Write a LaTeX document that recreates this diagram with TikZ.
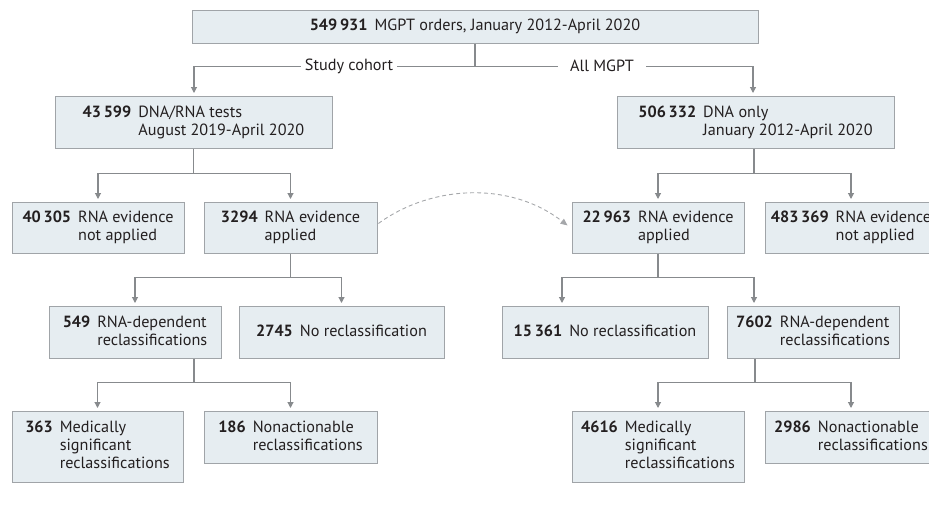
\documentclass[tikz,border=0pt]{standalone}
\usepackage{fontspec}
\setmainfont{PT Sans}
\usetikzlibrary{arrows.meta}
\definecolor{boxfill}{RGB}{230,237,241}
\definecolor{boxdraw}{RGB}{160,164,168}
\definecolor{linec}{RGB}{135,138,141}
\definecolor{dashc}{RGB}{165,167,170}
\definecolor{txt}{RGB}{35,31,32}
\newcommand{\fentry}[2]{\begin{tabular}{@{}l@{\hspace{7pt}}l@{}}\textbf{#1} & #2\end{tabular}}
\tikzset{
  box/.style={draw=boxdraw, fill=boxfill, line width=0.9pt, inner sep=0pt, anchor=north, text=txt,
    font=\fontsize{16.2}{18}\selectfont},
  conn/.style={draw=linec, line width=1.1pt},
  arr/.style={conn, -{Triangle[width=6pt,length=6pt]}, shorten >=3pt},
  dasharr/.style={draw=dashc, line width=0.9pt, dash pattern=on 4pt off 3pt, -{Triangle[width=6pt,length=7pt]}},
  lbl/.style={fill=white, text=txt, inner ysep=2pt, font=\fontsize{16.2}{18}\selectfont}
}
\begin{document}
\begin{tikzpicture}[x=1pt,y=-1pt]
\useasboundingbox (0,0) rectangle (929,504);
\clip (0,0) rectangle (929,504);
% boxes
\node[box, minimum width=566pt, minimum height=33pt] (top) at (475,10) {\fentry{549\,931}{MGPT orders, January 2012-April 2020}};
\node[box, minimum width=277pt, minimum height=52pt] (a1) at (193.5,96) {\fentry{43\,599}{DNA/RNA tests\\ & August 2019-April 2020}};
\node[box, minimum width=277pt, minimum height=52pt] (b1) at (755.5,96) {\fentry{506\,332}{DNA only\\ & January 2012-April 2020}};
\node[box, minimum width=172pt, minimum height=51pt] (a2l) at (98,202) {\fentry{40\,305}{RNA evidence\\ & not applied}};
\node[box, minimum width=173pt, minimum height=51pt] (a2r) at (290.5,202) {\fentry{3294}{RNA evidence\\ & applied}};
\node[box, minimum width=172pt, minimum height=51pt] (b2l) at (658,202) {\fentry{22\,963}{RNA evidence\\ & applied}};
\node[box, minimum width=172pt, minimum height=51pt] (b2r) at (851,202) {\fentry{483\,369}{RNA evidence\\ & not applied}};
\node[box, minimum width=172pt, minimum height=52pt] (a3l) at (135,306) {\fentry{549}{RNA-dependent\\ & reclassifications}};
\node[box, minimum width=205pt, minimum height=52pt] (a3r) at (341.5,306) {\fentry{2745}{No reclassification}};
\node[box, minimum width=206pt, minimum height=52pt] (b3l) at (605,306) {\fentry{15\,361}{No reclassification}};
\node[box, minimum width=172pt, minimum height=52pt] (b3r) at (813,306) {\fentry{7602}{RNA-dependent\\ & reclassifications}};
\node[box, minimum width=171pt, minimum height=71pt] (a4l) at (97.5,411) {\fentry{363}{Medically\\ & significant\\ & reclassifications}};
\node[box, minimum width=173pt, minimum height=52pt] (a4r) at (290.5,411) {\fentry{186}{Nonactionable\\ & reclassifications}};
\node[box, minimum width=172pt, minimum height=71pt] (b4l) at (658,411) {\fentry{4616}{Medically\\ & significant\\ & reclassifications}};
\node[box, minimum width=172pt, minimum height=52pt] (b4r) at (851,411) {\fentry{2986}{Nonactionable\\ & reclassifications}};
% level 1
\coordinate (j0) at ([yshift=-23pt]top.south);
\draw[conn] (top.south) -- (j0);
\draw[arr] (j0) -| ([xshift=0.5pt]a1.north);
\draw[arr] (j0) -| ([xshift=-2.5pt]b1.north);
\node[lbl, inner xsep=4pt] (lsc) at (349,66) {Study cohort};
\node[lbl, inner xsep=12pt] (lam) at (602,66) {All MGPT};
% level 2
\coordinate (j1a) at ([yshift=-25pt]a1.south);
\draw[conn] (a1.south) -- (j1a);
\draw[arr] (j1a) -| (a2l.north);
\draw[arr] (j1a) -| (a2r.north);
\coordinate (j1b) at ([xshift=-1.5pt,yshift=-25pt]b1.south);
\draw[conn] ([xshift=-1.5pt]b1.south) -- (j1b);
\draw[arr] (j1b) -| (b2l.north);
\draw[arr] (j1b) -| (b2r.north);
% level 3
\coordinate (j2a) at ([yshift=-24pt]a2r.south);
\draw[conn] (a2r.south) -- (j2a);
\draw[arr] (j2a) -| (a3l.north);
\draw[arr] (j2a) -| (a3r.north);
\coordinate (j2b) at ([yshift=-24pt]b2l.south);
\draw[conn] (b2l.south) -- (j2b);
\draw[arr] (j2b) -| ([xshift=-43pt]b3l.north);
\draw[arr] (j2b) -| ([xshift=-59pt]b3r.north);
% level 4
\coordinate (j3a) at ([xshift=59pt,yshift=-24pt]a3l.south);
\draw[conn] ([xshift=59pt]a3l.south) -- (j3a);
\draw[arr] (j3a) -| (a4l.north);
\draw[arr] (j3a) -| (a4r.north);
\coordinate (j3b) at ([xshift=-58pt,yshift=-24pt]b3r.south);
\draw[conn] ([xshift=-58pt]b3r.south) -- (j3b);
\draw[arr] (j3b) -| (b4l.north);
\draw[arr] (j3b) -| (b4r.north);
% dashed
\draw[dasharr] ([shift={(1pt,4.5pt)}]a2r.east) .. controls +(52,-38) and +(-58,-45) .. ([shift={(-4pt,2.5pt)}]b2l.west);
\end{tikzpicture}
\end{document}
